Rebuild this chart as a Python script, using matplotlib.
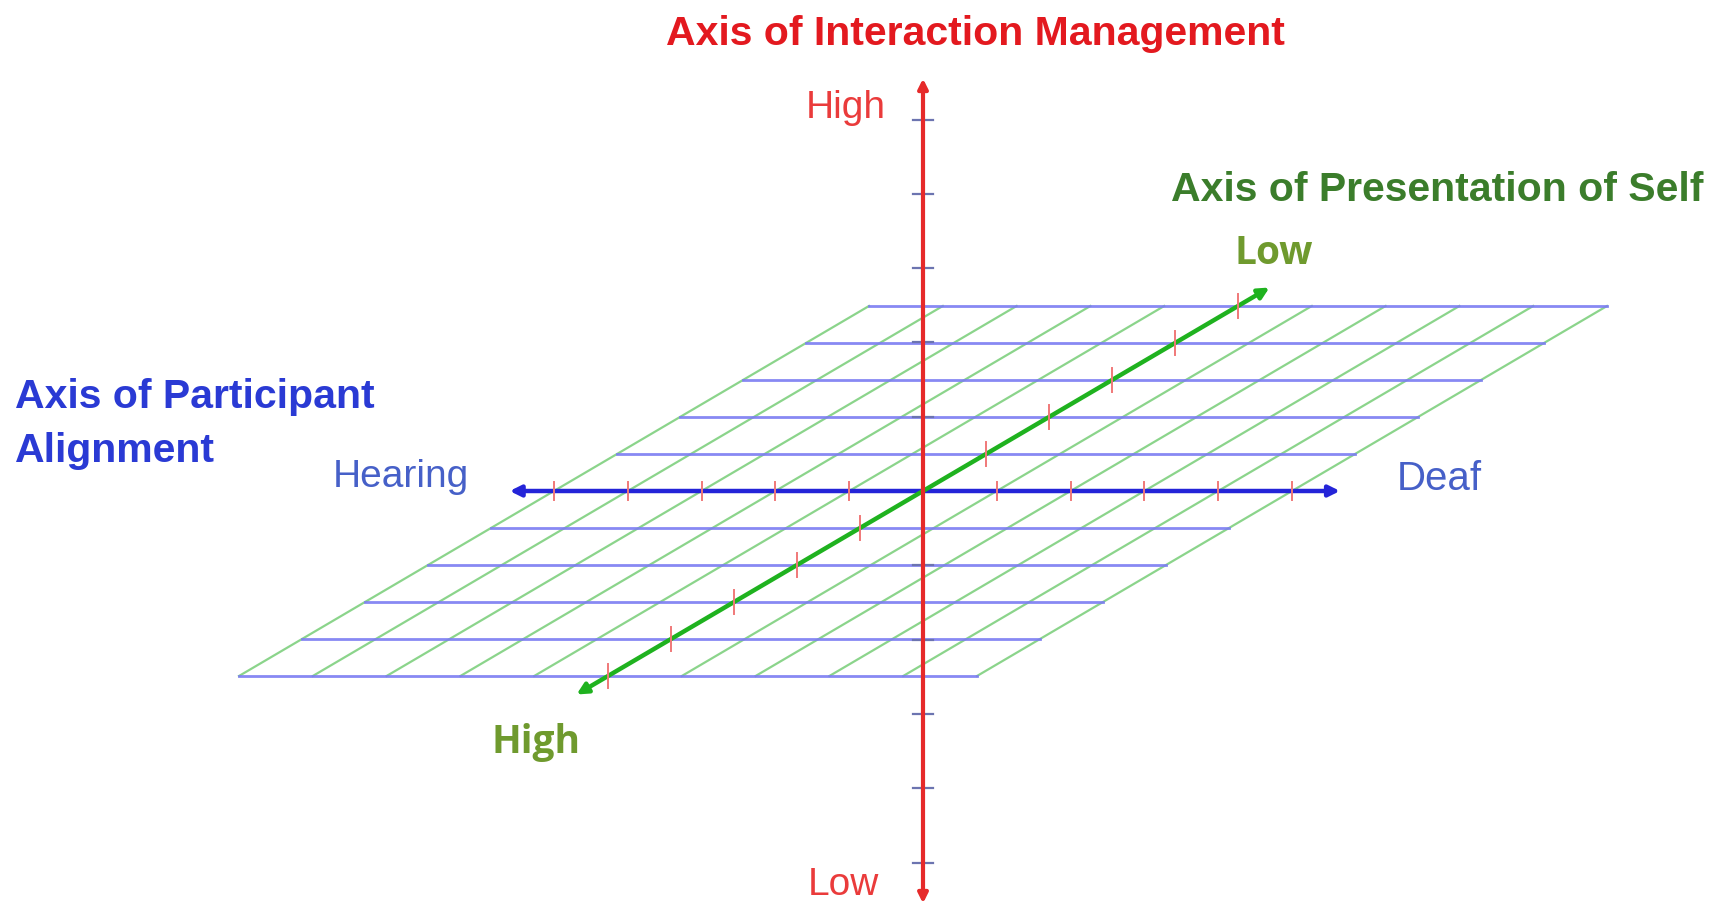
import matplotlib.pyplot as plt
import numpy as np

# Diagram values: grid steps along each axis, tick positions and labels
grid_steps = np.arange(-5, 6)
axis_ticks = [-5, -4, -3, -2, -1, 1, 2, 3, 4, 5]
axis_reach = 5.5
axis_names = ['Axis of Interaction Management', 'Axis of Participant\nAlignment',
              'Axis of Presentation of Self']
interaction_ends = ['High', 'Low']
alignment_ends = ['Hearing', 'Deaf']
presentation_ends = ['Low', 'High']

# Oblique projection of (u, v, w) onto the page, in pixels
cx, cy = 923, 491
du = 73.8              # step along participant alignment (horizontal)
dvx, dvy = 63.0, 37.0  # step along presentation of self (receding)
dw = 74.3              # step along interaction management (vertical)


def proj(u, v, w=0.0):
    return cx + u * du + v * dvx, cy - v * dvy - w * dw


W, H = 1727, 907
fig = plt.figure(figsize=(W / 100, H / 100), dpi=100)
ax = fig.add_axes([0, 0, 1, 1])
ax.set_xlim(0, W)
ax.set_ylim(H, 0)
ax.axis('off')

bold_font = ['Liberation Sans', 'DejaVu Sans']
plain = ['Liberation Sans', 'DejaVu Sans']

# Grid plane
lo, hi = grid_steps[0], grid_steps[-1]
for v in grid_steps:
    x0, y0 = proj(lo, v)
    x1, y1 = proj(hi, v)
    ax.plot([x0, x1], [y0, y1], color='#7b7cf2', lw=2.0, alpha=0.9, zorder=2)
for u in grid_steps:
    x0, y0 = proj(u, lo)
    x1, y1 = proj(u, hi)
    ax.plot([x0, x1], [y0, y1], color='#7fd07f', lw=1.6, alpha=0.9, zorder=1)

# Axis of participant alignment (blue, horizontal)
ax.annotate('', xy=proj(-axis_reach - 0.1, 0), xytext=proj(axis_reach + 0.15, 0),
            arrowprops=dict(arrowstyle='<|-|>', color='#2424d8', lw=3.2,
                            mutation_scale=16, shrinkA=0, shrinkB=0), zorder=4)
for t in axis_ticks:
    x, y = proj(t, 0)
    ax.plot([x, x], [y - 9, y + 9], color='#f07878', lw=1.4, zorder=5)

# Axis of presentation of self (green, receding)
ax.annotate('', xy=proj(0, -axis_reach), xytext=proj(0, axis_reach),
            arrowprops=dict(arrowstyle='<|-|>', color='#1fb21f', lw=3.2,
                            mutation_scale=16, shrinkA=0, shrinkB=0), zorder=5)
for t in axis_ticks:
    x, y = proj(0, t)
    ax.plot([x, x], [y - 12, y + 12], color='#f07878', lw=1.4, zorder=6)

# Axis of interaction management (red, vertical)
ax.annotate('', xy=proj(0, 0, -axis_reach - 0.05), xytext=proj(0, 0, axis_reach + 0.05),
            arrowprops=dict(arrowstyle='<|-|>', color='#e62a2a', lw=3.0,
                            mutation_scale=14, shrinkA=0, shrinkB=0), zorder=7)
for t in axis_ticks:
    x, y = proj(0, 0, t)
    ax.plot([x - 10, x + 10], [y, y], color='#6c74b0', lw=1.6, zorder=6)

# Axis titles
ax.text(975, 34, axis_names[0], color='#e3191f', fontsize=29.5, fontweight='bold',
        family=bold_font, ha='center', va='center')
ax.text(15, 424, axis_names[1], color='#2a3ad4', fontsize=29.5, fontweight='bold',
        family=bold_font, ha='left', va='center', linespacing=1.52)
ax.text(1437, 190, axis_names[2], color='#3b7d2b', fontsize=29.5, fontweight='bold',
        family=bold_font, ha='center', va='center')

# End labels
ax.text(846, 108, interaction_ends[0], color='#ea3b3b', fontsize=28, family=plain,
        ha='center', va='center')
ax.text(843, 885, interaction_ends[1], color='#ea3b3b', fontsize=28, family=plain,
        ha='center', va='center')
ax.text(401, 477, alignment_ends[0], color='#4660c8', fontsize=28, family=plain,
        ha='center', va='center')
ax.text(1439, 479, alignment_ends[1], color='#4660c8', fontsize=29, family=plain,
        ha='center', va='center')
ax.text(1274, 254, presentation_ends[0], color='#6f9a2e', fontsize=28, fontweight='bold',
        family=['Open Sans', 'DejaVu Sans'], ha='center', va='center')
ax.text(536, 743, presentation_ends[1], color='#6f9a2e', fontsize=28, fontweight='bold',
        family=['Open Sans', 'DejaVu Sans'], ha='center', va='center')

fig.savefig('out.png', dpi=100)
